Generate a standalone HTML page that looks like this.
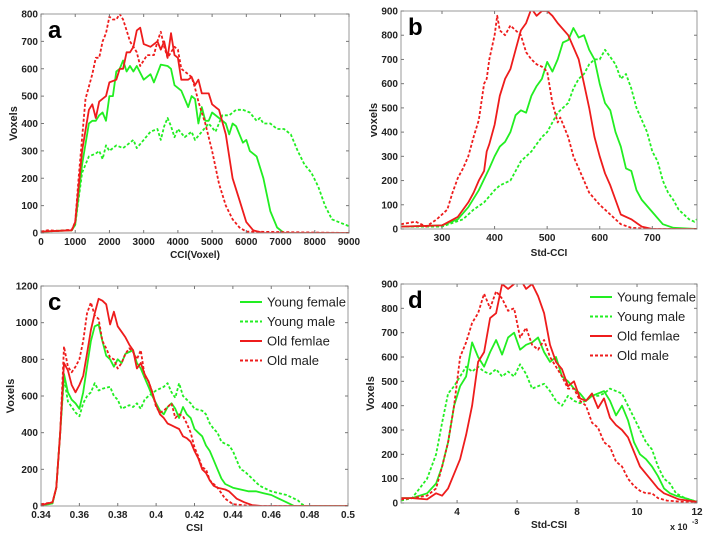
<!DOCTYPE html>
<html><head><meta charset="utf-8"><style>
html,body{margin:0;padding:0;background:#fff;}
svg{display:block;font-family:"Liberation Sans",sans-serif;}
</style></head><body>
<svg id="fig" width="720" height="540" viewBox="0 0 720 540"></svg>
<script>
// ---- Panel a data (CCI voxel) ----
const aYF=[[0,5],[500,8],[900,10],[1000,30],[1200,250],[1400,400],[1500,410],[1600,410],[1700,430],[1800,440],[1900,410],[2000,500],[2100,500],[2200,590],[2300,600],[2400,630],[2500,590],[2600,610],[2700,590],[2800,610],[3000,560],[3200,580],[3300,550],[3500,615],[3700,610],[3800,600],[3900,540],[4100,520],[4300,460],[4400,500],[4500,490],[4600,400],[4700,460],[4800,410],[4900,410],[5000,440],[5200,420],[5400,400],[5500,360],[5600,400],[5700,390],[5900,330],[6000,340],[6100,300],[6300,280],[6500,200],[6700,80],[6900,20],[7100,0],[9000,0]];
const aYM=[[0,5],[900,10],[1000,30],[1200,220],[1400,280],[1600,290],[1700,300],[1800,270],[1900,320],[2000,300],[2200,320],[2400,310],[2600,330],[2700,340],[2800,310],[3000,340],[3200,370],[3400,380],[3500,340],[3600,390],[3700,420],[3800,390],[3900,350],[4000,380],[4200,350],[4400,370],[4500,340],[4700,370],[4900,400],[5100,370],[5300,430],[5500,430],[5700,450],[5900,450],[6100,440],[6300,410],[6400,420],[6500,400],[6700,400],[6900,380],[7100,380],[7300,360],[7500,300],[7700,250],[7900,220],[8100,170],[8300,100],[8500,50],[8700,40],[8900,30],[9000,25]];
const aOF=[[0,5],[900,10],[1000,40],[1200,300],[1400,450],[1500,470],[1600,420],[1700,480],[1900,500],[2000,550],[2200,560],[2300,600],[2400,600],[2500,660],[2600,660],[2700,680],[2800,740],[2900,750],[3000,690],[3200,680],[3400,700],[3500,670],[3600,700],[3700,640],[3800,730],[3900,650],[4000,640],[4100,560],[4300,560],[4400,570],[4500,540],[4600,560],[4700,510],[4900,510],[5000,470],[5100,460],[5200,450],[5400,360],[5600,200],[5800,120],[6000,40],[6200,10],[6500,0],[9000,0]];
const aOM=[[0,5],[200,10],[500,8],[900,12],[1000,40],[1100,200],[1300,490],[1500,580],[1600,640],[1700,640],[1800,700],[1900,730],[2000,790],[2100,780],[2200,780],[2300,800],[2400,780],[2500,740],[2600,700],[2800,660],[2900,610],[3100,650],[3300,650],[3400,700],[3500,735],[3600,680],[3700,640],[3800,660],[3900,680],[4000,670],[4100,600],[4300,580],[4400,570],[4500,530],[4600,480],[4700,440],[4800,400],[4900,350],[5000,300],[5200,180],[5400,100],[5600,50],[5800,20],[6000,5],[9000,0]];
const aXTicks=[0,1000,2000,3000,4000,5000,6000,7000,8000,9000];
const aYTicks=[0,100,200,300,400,500,600,700,800];
// ---- Panel b data (Std-CCI) ----
const bOM=[[222,20],[250,30],[270,10],[290,40],[310,80],[320,150],[330,210],[340,250],[350,300],[360,380],[370,450],[380,600],[385,620],[390,700],[400,800],[405,880],[410,820],[420,800],[430,840],[440,820],[450,800],[460,730],[470,700],[480,680],[490,670],[500,650],[510,520],[520,440],[525,460],[540,380],[550,300],[560,250],[570,200],[580,150],[600,100],[620,60],[640,20],[660,5],[700,0],[785,0]];
const bOF=[[222,10],[300,15],[330,50],[350,110],[360,150],[370,200],[380,240],[385,320],[390,350],[400,430],[410,550],[420,620],[430,660],[440,740],[450,820],[460,850],[470,910],[480,880],[490,900],[500,900],[510,880],[520,850],[540,800],[560,700],[570,600],[580,500],[590,380],[600,300],[610,230],[620,180],[640,60],[660,40],[680,10],[700,0],[785,0]];
const bYF=[[222,10],[300,15],[330,40],[350,90],[370,160],[390,250],[400,300],[410,340],[420,360],[430,400],[440,470],[450,490],[460,480],[470,550],[480,590],[490,620],[500,690],[510,650],[520,700],[530,770],[540,780],[550,830],[560,790],[570,800],[580,740],[590,700],[600,600],[610,520],[620,490],[630,400],[640,340],[650,250],[660,240],[670,160],[680,120],[700,70],[720,20],[740,5],[785,0]];
const bYM=[[222,10],[300,10],[340,40],[360,80],[380,110],[400,160],[410,180],[430,200],[450,280],[470,320],[480,350],[490,380],[500,400],[510,440],[520,480],[530,500],[540,520],[550,580],[560,620],[570,640],[580,680],[590,700],[600,700],[610,740],[620,710],[630,680],[640,620],[650,640],[660,580],[670,500],[680,450],[690,400],[700,320],[710,280],[720,200],[730,150],[740,120],[750,80],[760,60],[770,40],[780,30],[785,40]];
const bXTicks=[300,400,500,600,700];
const bYTicks=[0,100,200,300,400,500,600,700,800,900];
// ---- Panel c data (CSI) ----
const cYF=[[.34,5],[.344,10],[.346,15],[.348,100],[.35,400],[.352,720],[.354,620],[.356,580],[.358,560],[.36,530],[.362,620],[.364,760],[.366,900],[.368,980],[.37,990],[.372,900],[.374,820],[.376,800],[.378,760],[.38,800],[.382,780],[.384,830],[.386,840],[.388,850],[.39,780],[.392,750],[.394,700],[.396,650],[.398,600],[.4,560],[.402,520],[.404,500],[.406,540],[.408,560],[.41,530],[.412,480],[.414,540],[.416,500],[.418,480],[.42,420],[.422,400],[.424,380],[.426,330],[.428,300],[.43,250],[.432,200],[.434,150],[.436,120],[.44,100],[.444,90],[.448,80],[.452,80],[.456,70],[.46,60],[.464,40],[.468,20],[.472,0],[.5,0]];
const cYM=[[.34,5],[.346,15],[.348,100],[.35,400],[.352,700],[.354,570],[.356,540],[.358,510],[.36,490],[.362,560],[.364,600],[.366,620],[.368,670],[.37,630],[.372,640],[.376,650],[.378,600],[.38,580],[.382,530],[.384,540],[.386,550],[.388,540],[.39,560],[.392,530],[.394,580],[.396,600],[.4,630],[.404,650],[.406,670],[.408,620],[.41,590],[.412,670],[.414,600],[.416,580],[.418,560],[.42,530],[.424,520],[.426,500],[.428,450],[.43,420],[.432,400],[.434,350],[.436,340],[.438,330],[.44,300],[.442,250],[.444,200],[.446,190],[.448,170],[.45,150],[.452,130],[.454,110],[.456,100],[.458,90],[.46,80],[.464,70],[.468,60],[.472,40],[.474,30],[.476,10],[.478,0],[.5,0]];
const cOF=[[.34,5],[.344,15],[.346,20],[.348,100],[.35,400],[.352,780],[.354,740],[.356,660],[.358,620],[.36,660],[.362,710],[.364,830],[.366,960],[.368,1050],[.37,1130],[.372,1120],[.374,1100],[.376,990],[.378,1060],[.38,980],[.382,950],[.384,920],[.386,880],[.388,850],[.39,750],[.392,780],[.394,720],[.396,680],[.398,620],[.4,550],[.402,500],[.404,480],[.406,450],[.408,440],[.41,430],[.412,420],[.414,380],[.416,370],[.418,350],[.42,300],[.422,260],[.424,200],[.426,180],[.428,140],[.43,110],[.432,100],[.436,90],[.438,80],[.44,60],[.442,40],[.446,20],[.45,5],[.455,0],[.5,0]];
const cOM=[[.34,10],[.346,20],[.348,100],[.35,400],[.352,870],[.354,760],[.356,730],[.358,760],[.36,800],[.362,900],[.364,1050],[.366,1110],[.368,1040],[.37,1020],[.372,900],[.374,860],[.376,810],[.378,800],[.38,750],[.382,780],[.384,830],[.386,860],[.388,840],[.39,800],[.392,850],[.394,710],[.396,680],[.398,620],[.4,540],[.402,510],[.404,520],[.406,540],[.408,560],[.41,480],[.412,500],[.414,490],[.416,450],[.418,400],[.42,320],[.422,270],[.424,210],[.426,200],[.428,140],[.43,120],[.432,100],[.434,70],[.436,40],[.44,10],[.445,5],[.45,0],[.5,0]];
const cXTicks=[0.34,0.36,0.38,0.4,0.42,0.44,0.46,0.48,0.5];
const cXLabels=["0.34","0.36","0.38","0.4","0.42","0.44","0.46","0.48","0.5"];
const cYTicks=[0,200,400,600,800,1000,1200];
// ---- Panel d data (Std-CSI, x10^-3) ----
const dYF=[[2.13,20],[2.5,20],[3,40],[3.3,80],[3.5,150],[3.7,250],[3.9,400],[4.1,480],[4.3,520],[4.5,660],[4.7,600],[4.9,560],[5.1,620],[5.3,670],[5.5,610],[5.7,680],[5.9,700],[6.1,630],[6.3,650],[6.5,660],[6.7,680],[6.9,620],[7.1,580],[7.3,600],[7.5,520],[7.7,500],[7.9,470],[8.1,450],[8.3,420],[8.5,440],[8.7,450],[8.9,460],[9.1,420],[9.3,360],[9.5,400],[9.7,340],[9.9,250],[10.1,200],[10.3,180],[10.5,150],[10.7,110],[10.9,60],[11.1,40],[11.3,30],[11.6,20],[12,5]];
const dYM=[[2.13,10],[2.5,20],[3,100],[3.3,200],[3.5,330],[3.7,450],[3.9,480],[4.1,520],[4.3,560],[4.5,540],[4.7,560],[4.9,540],[5.1,530],[5.3,550],[5.5,520],[5.7,540],[5.9,520],[6.1,570],[6.3,530],[6.5,470],[6.7,480],[6.9,490],[7.1,460],[7.3,420],[7.5,400],[7.7,440],[7.9,420],[8.1,410],[8.3,420],[8.5,440],[8.7,440],[8.9,450],[9.1,470],[9.3,460],[9.5,450],[9.7,400],[9.9,350],[10.1,300],[10.3,250],[10.5,220],[10.7,150],[10.9,100],[11.1,80],[11.3,40],[11.6,20],[12,5]];
const dOF=[[2.13,20],[2.5,20],[3,15],[3.3,40],[3.5,30],[3.7,60],[3.9,120],[4.1,180],[4.3,280],[4.5,400],[4.7,580],[4.9,620],[5.1,760],[5.3,780],[5.5,900],[5.7,880],[5.9,900],[6.1,920],[6.3,880],[6.5,900],[6.7,850],[6.9,780],[7.1,650],[7.3,580],[7.5,550],[7.7,480],[7.9,500],[8.1,430],[8.3,420],[8.5,450],[8.7,390],[8.9,430],[9.1,350],[9.3,320],[9.5,300],[9.7,270],[9.9,210],[10.1,150],[10.3,120],[10.5,90],[10.7,60],[10.9,40],[11.1,30],[11.4,15],[12,5]];
const dOM=[[2.13,15],[2.5,20],[3,30],[3.3,60],[3.5,150],[3.7,250],[3.9,400],[4.1,600],[4.3,660],[4.5,740],[4.7,780],[4.9,860],[5.1,800],[5.3,870],[5.5,840],[5.7,790],[5.9,800],[6.1,680],[6.3,720],[6.5,650],[6.7,630],[6.9,670],[7.1,600],[7.3,560],[7.5,520],[7.7,470],[7.9,470],[8.1,420],[8.3,400],[8.5,330],[8.7,310],[8.9,250],[9.1,230],[9.3,170],[9.5,150],[9.7,100],[9.9,70],[10.1,50],[10.3,40],[10.5,40],[10.7,20],[11,10],[11.5,5],[12,0]];
const dXTicks=[4,6,8,10,12];
const dYTicks=[0,100,200,300,400,500,600,700,800,900];
const legendLabels=["Young female","Young male","Old femlae","Old male"];

const NS="http://www.w3.org/2000/svg";
const svg=document.getElementById('fig');
function mk(tag,attrs,parent){const e=document.createElementNS(NS,tag);for(const k in attrs)e.setAttribute(k,attrs[k]);(parent||svg).appendChild(e);return e;}
const GREEN="#22ee22",RED="#ee1c1c";
const styles=[{c:GREEN,d:null},{c:GREEN,d:"3,2"},{c:RED,d:null},{c:RED,d:"3,2"}];
const seriesNames=["young-female","young-male","old-female","old-male"];

function panel(p){
  const g=mk('g',{});
  
  
  const sx=v=>p.x0+(v-p.xmin)/(p.xmax-p.xmin)*(p.x1-p.x0);
  const sy=v=>p.y1-(v-p.ymin)/(p.ymax-p.ymin)*(p.y1-p.y0);
  const clip=mk('clipPath',{id:'clip'+p.id},g);
  mk('rect',{x:p.x0,y:p.y0,width:p.x1-p.x0,height:p.y1-p.y0},clip);
  // series
  p.series.forEach((s,i)=>{
    const d=s.map((pt,j)=>(j?'L':'M')+sx(pt[0]).toFixed(1)+','+sy(pt[1]).toFixed(1)).join('');
    const attrs={d:d,fill:'none',stroke:styles[i].c,'stroke-width':1.8,'clip-path':'url(#clip'+p.id+')','stroke-linejoin':'round'};
    if(styles[i].d)attrs['stroke-dasharray']=styles[i].d;
    const path=mk('path',attrs,g);
    
    
  });
  // frame
  const fr=mk('rect',{x:p.x0,y:p.y0,width:p.x1-p.x0,height:p.y1-p.y0,fill:'none',stroke:'#999','stroke-width':1},g);
  
  
  // x ticks
  p.xt.forEach((v,i)=>{
    const X=sx(v);
    mk('line',{x1:X,x2:X,y1:p.y1,y2:p.y1-3,stroke:'#777'},g);
    mk('line',{x1:X,x2:X,y1:p.y0,y2:p.y0+3,stroke:'#777'},g);
    const t=mk('text',{x:X,y:p.y1+12,'text-anchor':'middle','font-size':10,'font-weight':'bold',fill:'#222'},g);
    t.textContent=p.xl?p.xl[i]:String(v);
    
    
  });
  p.yt.forEach(v=>{
    const Y=sy(v);
    mk('line',{x1:p.x0,x2:p.x0+3,y1:Y,y2:Y,stroke:'#777'},g);
    mk('line',{x1:p.x1,x2:p.x1-3,y1:Y,y2:Y,stroke:'#777'},g);
    const t=mk('text',{x:p.x0-3,y:Y+3.5,'text-anchor':'end','font-size':10,'font-weight':'bold',fill:'#222'},g);
    t.textContent=String(v);
    
    
  });
  const xt=mk('text',{x:(p.x0+p.x1)/2,y:p.xly,'text-anchor':'middle','font-size':10,'font-weight':'bold',fill:'#222'},g);
  xt.textContent=p.xlabel;
  
  
  const yt=mk('text',{x:0,y:0,transform:'translate('+p.ylx+','+((p.y0+p.y1)/2)+') rotate(-90)','text-anchor':'middle','font-size':11,'font-weight':'bold',fill:'#222'},g);
  yt.textContent=p.ylabel;
  
  
  const lt=mk('text',{x:p.x0+7,y:p.y0+24,'font-size':24,'font-weight':'bold',fill:'#000'},g);
  lt.textContent=p.id;
  
  
  if(p.legend){
    const lg=mk('g',{},g);
    
    
    legendLabels.forEach((lab,i)=>{
      const Y=p.legend.y+i*19.5;
      const la={x1:p.legend.x,x2:p.legend.x+22,y1:Y,y2:Y,stroke:styles[i].c,'stroke-width':2};
      if(styles[i].d)la['stroke-dasharray']=styles[i].d;
      const l=mk('line',la,lg);
      
      
      const t=mk('text',{x:p.legend.x+27,y:Y+4.5,'font-size':13,fill:'#222'},lg);
      t.textContent=lab;
      
      
    });
  }
  return {sx,sy};
}
panel({id:'a',x0:41,x1:349,y0:14,y1:233,xmin:0,xmax:9000,ymin:0,ymax:800,series:[aYF,aYM,aOF,aOM],xt:aXTicks,yt:aYTicks,xlabel:'CCI(Voxel)',xly:258,ylabel:'Voxels',ylx:17});
panel({id:'b',x0:401,x1:697,y0:11,y1:229,xmin:222,xmax:785,ymin:0,ymax:900,series:[bYF,bYM,bOF,bOM],xt:bXTicks,yt:bYTicks,xlabel:'Std-CCI',xly:256,ylabel:'voxels',ylx:377});
panel({id:'c',x0:41,x1:348,y0:286,y1:506,xmin:0.34,xmax:0.5,ymin:0,ymax:1200,series:[cYF,cYM,cOF,cOM],xt:cXTicks,xl:cXLabels,yt:cYTicks,xlabel:'CSI',xly:531,ylabel:'Voxels',ylx:14,legend:{x:240,y:302}});
const pd=panel({id:'d',x0:401,x1:697,y0:284,y1:503,xmin:2.13,xmax:12,ymin:0,ymax:900,series:[dYF,dYM,dOF,dOM],xt:dXTicks,yt:dYTicks,xlabel:'Std-CSI',xly:528,ylabel:'Voxels',ylx:374,legend:{x:590,y:297}});
const ex=mk('text',{x:670,y:530,'font-size':9,'font-weight':'bold',fill:'#222'});
ex.textContent='x 10';


const ex2=mk('text',{x:692,y:524,'font-size':7,'font-weight':'bold',fill:'#222'});
ex2.textContent='-3';


</script>
</body></html>
